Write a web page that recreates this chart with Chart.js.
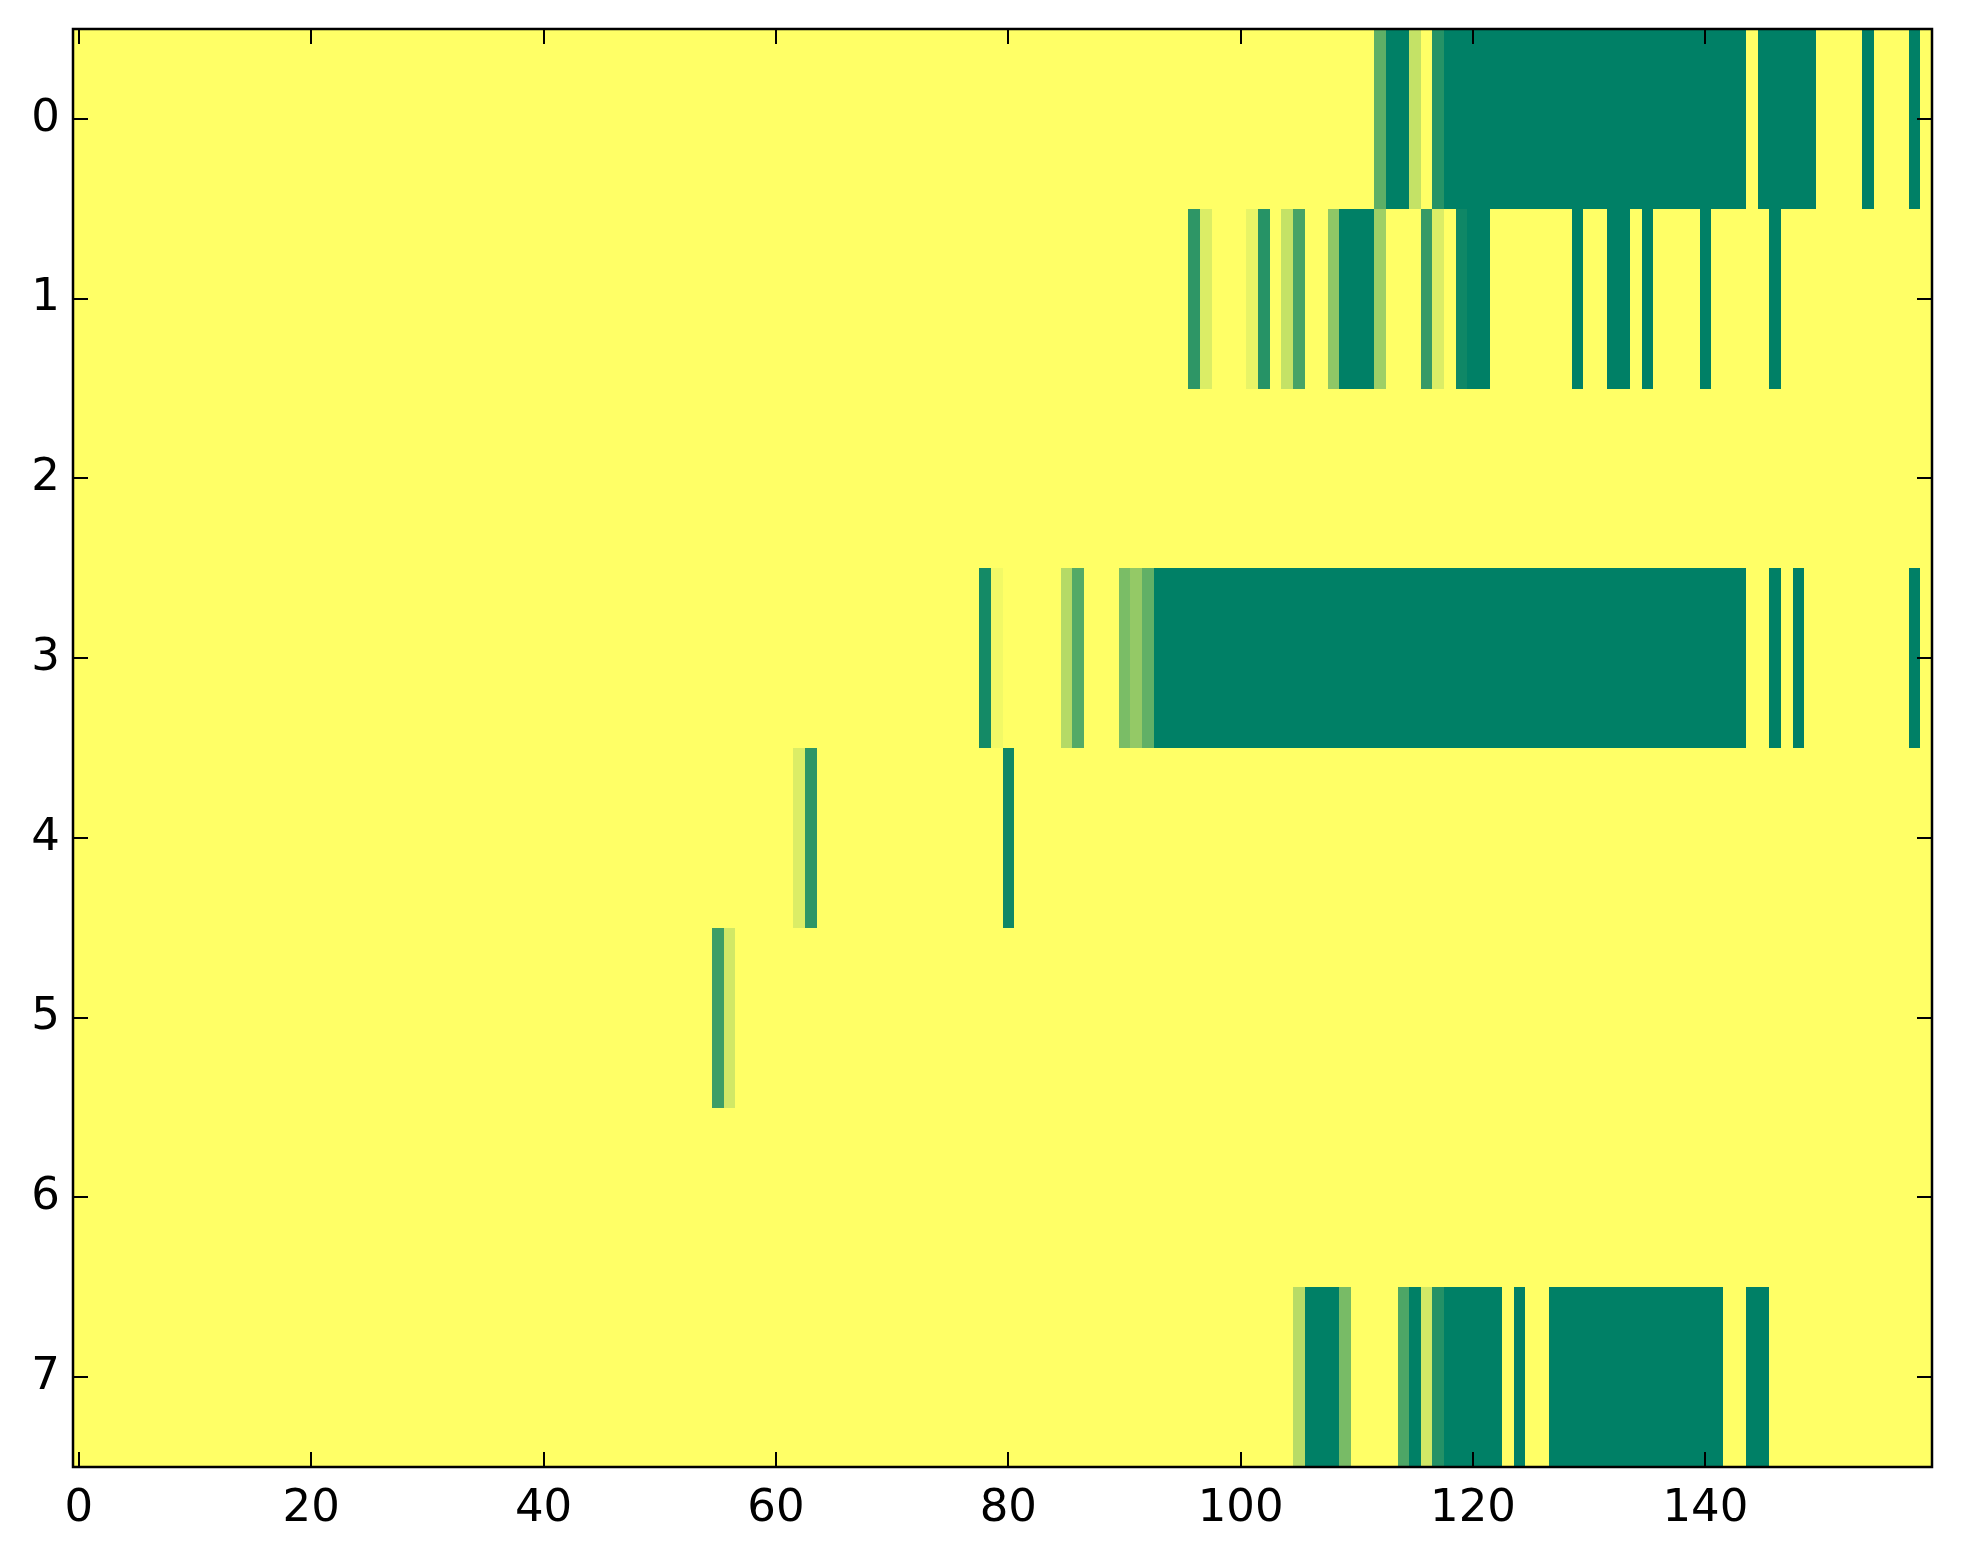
<!DOCTYPE html>
<html><head><meta charset="utf-8">
<script src="https://cdn.jsdelivr.net/npm/chart.js@4.4.1/dist/chart.umd.min.js"></script>
<style>html,body{margin:0;padding:0;background:#fff}#wrap{width:1963px;height:1564px}</style>
</head><body><div id="wrap"><canvas id="c" width="1963" height="1564"></canvas></div>
<script>
const rowLabels = [0,1,2,3,4,5,6,7];
const xTickValues = [0,20,40,60,80,100,120,140];

const row0 = [
0,0,0,0,0,0,0,0,0,0,0,0,0,0,0,0,0,0,0,0,
0,0,0,0,0,0,0,0,0,0,0,0,0,0,0,0,0,0,0,0,
0,0,0,0,0,0,0,0,0,0,0,0,0,0,0,0,0,0,0,0,
0,0,0,0,0,0,0,0,0,0,0,0,0,0,0,0,0,0,0,0,
0,0,0,0,0,0,0,0,0,0,0,0,0,0,0,0,0,0,0,0,
0,0,0,0,0,0,0,0,0,0,0,0,0.63,1,1,0.23,0,0.85,1,1,
1,1,1,1,1,1,1,1,1,1,1,1,1,1,1,1,1,1,1,1,
1,1,1,1,0,1,1,1,1,1,0,0,0,0,1,0,0,0,1,0];
const row1 = [
0,0,0,0,0,0,0,0,0,0,0,0,0,0,0,0,0,0,0,0,
0,0,0,0,0,0,0,0,0,0,0,0,0,0,0,0,0,0,0,0,
0,0,0,0,0,0,0,0,0,0,0,0,0,0,0,0,0,0,0,0,
0,0,0,0,0,0,0,0,0,0,0,0,0,0,0,0,0,0,0,0,
0,0,0,0,0,0,0,0,0,0,0,0,0,0,0,0,0.82,0.14,0,0,
0,0.09,0.85,0,0.23,0.72,0,0,0.44,1,1,1,0.38,0,0,0,0.79,0.14,0,0.94,
1,1,0,0,0,0,0,0,0,1,0,0,1,1,0,1,0,0,0,0,
1,0,0,0,0,0,1,0,0,0,0,0,0,0,0,0,0,0,0,0];
const row2 = [
0,0,0,0,0,0,0,0,0,0,0,0,0,0,0,0,0,0,0,0,
0,0,0,0,0,0,0,0,0,0,0,0,0,0,0,0,0,0,0,0,
0,0,0,0,0,0,0,0,0,0,0,0,0,0,0,0,0,0,0,0,
0,0,0,0,0,0,0,0,0,0,0,0,0,0,0,0,0,0,0,0,
0,0,0,0,0,0,0,0,0,0,0,0,0,0,0,0,0,0,0,0,
0,0,0,0,0,0,0,0,0,0,0,0,0,0,0,0,0,0,0,0,
0,0,0,0,0,0,0,0,0,0,0,0,0,0,0,0,0,0,0,0,
0,0,0,0,0,0,0,0,0,0,0,0,0,0,0,0,0,0,0,0];
const row3 = [
0,0,0,0,0,0,0,0,0,0,0,0,0,0,0,0,0,0,0,0,
0,0,0,0,0,0,0,0,0,0,0,0,0,0,0,0,0,0,0,0,
0,0,0,0,0,0,0,0,0,0,0,0,0,0,0,0,0,0,0,0,
0,0,0,0,0,0,0,0,0,0,0,0,0,0,0,0,0,0,0.92,0.05,
0,0,0,0,0,0.29,0.67,0,0,0,0.52,0.42,0.62,1,1,1,1,1,1,1,
1,1,1,1,1,1,1,1,1,1,1,1,1,1,1,1,1,1,1,1,
1,1,1,1,1,1,1,1,1,1,1,1,1,1,1,1,1,1,1,1,
1,1,1,1,0,0,1,0,1,0,0,0,0,0,0,0,0,0,1,0];
const row4 = [
0,0,0,0,0,0,0,0,0,0,0,0,0,0,0,0,0,0,0,0,
0,0,0,0,0,0,0,0,0,0,0,0,0,0,0,0,0,0,0,0,
0,0,0,0,0,0,0,0,0,0,0,0,0,0,0,0,0,0,0,0,
0,0,0.14,0.82,0,0,0,0,0,0,0,0,0,0,0,0,0,0,0,0,
0.94,0,0,0,0,0,0,0,0,0,0,0,0,0,0,0,0,0,0,0,
0,0,0,0,0,0,0,0,0,0,0,0,0,0,0,0,0,0,0,0,
0,0,0,0,0,0,0,0,0,0,0,0,0,0,0,0,0,0,0,0,
0,0,0,0,0,0,0,0,0,0,0,0,0,0,0,0,0,0,0,0];
const row5 = [
0,0,0,0,0,0,0,0,0,0,0,0,0,0,0,0,0,0,0,0,
0,0,0,0,0,0,0,0,0,0,0,0,0,0,0,0,0,0,0,0,
0,0,0,0,0,0,0,0,0,0,0,0,0,0,0,0.76,0.18,0,0,0,
0,0,0,0,0,0,0,0,0,0,0,0,0,0,0,0,0,0,0,0,
0,0,0,0,0,0,0,0,0,0,0,0,0,0,0,0,0,0,0,0,
0,0,0,0,0,0,0,0,0,0,0,0,0,0,0,0,0,0,0,0,
0,0,0,0,0,0,0,0,0,0,0,0,0,0,0,0,0,0,0,0,
0,0,0,0,0,0,0,0,0,0,0,0,0,0,0,0,0,0,0,0];
const row6 = [
0,0,0,0,0,0,0,0,0,0,0,0,0,0,0,0,0,0,0,0,
0,0,0,0,0,0,0,0,0,0,0,0,0,0,0,0,0,0,0,0,
0,0,0,0,0,0,0,0,0,0,0,0,0,0,0,0,0,0,0,0,
0,0,0,0,0,0,0,0,0,0,0,0,0,0,0,0,0,0,0,0,
0,0,0,0,0,0,0,0,0,0,0,0,0,0,0,0,0,0,0,0,
0,0,0,0,0,0,0,0,0,0,0,0,0,0,0,0,0,0,0,0,
0,0,0,0,0,0,0,0,0,0,0,0,0,0,0,0,0,0,0,0,
0,0,0,0,0,0,0,0,0,0,0,0,0,0,0,0,0,0,0,0];
const row7 = [
0,0,0,0,0,0,0,0,0,0,0,0,0,0,0,0,0,0,0,0,
0,0,0,0,0,0,0,0,0,0,0,0,0,0,0,0,0,0,0,0,
0,0,0,0,0,0,0,0,0,0,0,0,0,0,0,0,0,0,0,0,
0,0,0,0,0,0,0,0,0,0,0,0,0,0,0,0,0,0,0,0,
0,0,0,0,0,0,0,0,0,0,0,0,0,0,0,0,0,0,0,0,
0,0,0,0,0,0.28,1,1,1,0.53,0,0,0,0,0.70,1,0.18,0.86,1,1,
1,1,1,0,1,0,0,1,1,1,1,1,1,1,1,1,1,1,1,1,
1,1,0,0,1,1,0,0,0,0,0,0,0,0,0,0,0,0,0,0];

const rows = [row0,row1,row2,row3,row4,row5,row6,row7];
const cellData = [];
rows.forEach((r, yi) => r.forEach((v, xi) => cellData.push({x: xi, y: yi, v: v})));

function summerR(v){
  const r = Math.round(255*(1-v));
  const g = Math.round(255*(1-v/2));
  return 'rgb(' + r + ',' + g + ',102)';
}

const heatPlugin = {
  id: 'heat',
  beforeDatasetsDraw(chart){
    const ctx = chart.ctx, a = chart.chartArea, xs = chart.scales.x, ys = chart.scales.y;
    ctx.save();
    ctx.beginPath(); ctx.rect(a.left, a.top, a.right-a.left, a.bottom-a.top); ctx.clip();
    cellData.forEach(d => {
      const x0 = Math.round(xs.getPixelForValue(d.x-0.5)), x1 = Math.round(xs.getPixelForValue(d.x+0.5));
      const y0 = Math.round(ys.getPixelForValue(d.y-0.5)), y1 = Math.round(ys.getPixelForValue(d.y+0.5));
      ctx.fillStyle = summerR(d.v);
      ctx.fillRect(Math.min(x0,x1), Math.min(y0,y1), Math.abs(x1-x0), Math.abs(y1-y0));
    });
    ctx.restore();
  },
  afterDraw(chart){
    const ctx = chart.ctx, a = chart.chartArea, xs = chart.scales.x, ys = chart.scales.y;
    const L = 15;
    ctx.save();
    ctx.strokeStyle = '#000';
    ctx.lineWidth = 2;
    ctx.beginPath();
    xTickValues.forEach(v => {
      const p = Math.round(xs.getPixelForValue(v));
      ctx.moveTo(p, a.bottom); ctx.lineTo(p, a.bottom - L);
      ctx.moveTo(p, a.top); ctx.lineTo(p, a.top + L);
    });
    rowLabels.forEach(v => {
      const p = Math.round(ys.getPixelForValue(v));
      ctx.moveTo(a.left, p); ctx.lineTo(a.left + L, p);
      ctx.moveTo(a.right, p); ctx.lineTo(a.right - L, p);
    });
    ctx.stroke();
    ctx.lineWidth = 2.5;
    ctx.strokeRect(a.left, a.top, a.right-a.left, a.bottom-a.top);
    ctx.restore();
  }
};

const tickFont = {family: 'DejaVu Sans', size: 45};
new Chart(document.getElementById('c'), {
  type: 'scatter',
  data: { datasets: [{ data: cellData, pointRadius: 0, pointHoverRadius: 0, showLine: false }] },
  options: {
    responsive: false,
    devicePixelRatio: 1,
    animation: false,
    events: [],
    layout: { padding: { top: 29, right: 31, left: 0, bottom: 0 } },
    plugins: { legend: { display: false }, tooltip: { enabled: false } },
    scales: {
      x: {
        type: 'linear', position: 'bottom', min: -0.5, max: 159.5,
        afterBuildTicks: s => { s.ticks = xTickValues.map(v => ({value: v})); },
        afterFit: s => { s.height = 97; s.paddingLeft = 0; s.paddingRight = 0; },
        ticks: { color: '#000', font: tickFont, padding: 15, maxRotation: 0, autoSkip: false,
                 callback: v => String(v) },
        grid: { display: false, drawTicks: false },
        border: { display: false }
      },
      y: {
        type: 'linear', position: 'left', reverse: true, min: -0.5, max: 7.5,
        afterBuildTicks: s => { s.ticks = rowLabels.map(v => ({value: v})); },
        afterFit: s => { s.width = 73; s.paddingTop = 0; s.paddingBottom = 0; },
        ticks: { color: '#000', font: tickFont, padding: 13, autoSkip: false,
                 callback: v => String(v) },
        grid: { display: false, drawTicks: false },
        border: { display: false }
      }
    }
  },
  plugins: [heatPlugin]
});
</script>
</body></html>
